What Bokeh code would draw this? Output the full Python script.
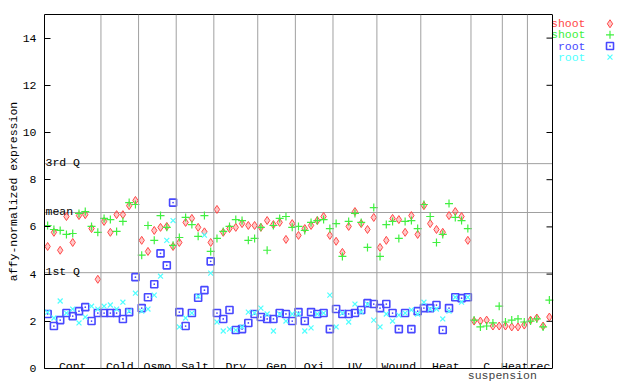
import numpy as np
from bokeh.plotting import figure
from bokeh.models import Range1d, LinearAxis, FixedTicker, Span, Title
from bokeh.embed import file_html
from bokeh.resources import INLINE
from bokeh.core.properties import value

# ---------------- data ----------------
groups = ["Cont", "Cold", "Osmo", "Salt", "Dry", "Gen", "Oxi", "UV", "Wound", "Heat", "C", "Heat", "rec"]
group_sizes = [9, 6, 6, 6, 7, 6, 6, 7, 7, 8, 5, 4, 4]
sub_label = "suspension"

shoot_a = [5.17, 5.77, 5.01, 6.44, 5.34, 6.48, 6.52, 5.93, 3.78,
           6.23, 5.77, 6.52, 6.52, 6.90, 7.12,
           5.43, 4.96, 5.85, 5.98, 6.02, 5.17,
           5.34, 6.19, 6.36, 5.98, 5.79, 5.34,
           6.74, 5.77, 5.93, 5.98, 6.14, 6.06, 6.06,
           5.98, 6.27, 6.10, 6.19, 5.47, 6.14,
           5.64, 5.93, 6.06, 6.27, 6.44, 5.64,
           5.39, 4.92, 6.02, 6.65, 6.14, 5.89, 6.40,
           5.13, 5.43, 6.36, 6.31, 5.77, 6.48, 5.68,
           6.90, 6.14, 5.89, 5.77, 6.48, 6.65, 6.44, 5.43,
           2.01, 2.01, 2.05, 1.80, 1.80,
           1.80, 1.76, 1.76, 1.84,
           2.05, 2.14, 1.80, 2.18]
shoot_b = [6.06, 5.89, 5.85, 5.68, 5.72, 6.57, 6.65, 6.02, 5.77,
           6.36, 6.31, 5.81, 6.23, 7.03, 6.95,
           4.80, 6.06, 5.43, 6.48, 5.98, 5.22,
           5.55, 6.40, 6.10, 5.60, 6.48, 4.96,
           5.51, 5.81, 6.02, 6.31, 6.27, 5.43, 5.51,
           5.98, 5.01, 6.06, 6.36, 6.44, 5.98,
           6.02, 5.85, 6.19, 6.27, 6.31, 5.93,
           6.14, 4.75, 6.23, 6.57, 6.19, 5.13, 6.82,
           4.75, 6.10, 6.23, 5.51, 6.23, 6.27, 5.93,
           6.95, 6.44, 5.34, 5.68, 6.99, 6.40, 6.27, 5.93,
           2.05, 1.76, 1.80, 1.93, 2.64,
           1.97, 2.05, 2.10, 1.97,
           2.01, 2.10, 1.76, 2.90]
nan = float("nan")
root_a = [2.31, 1.80, 2.05, 2.35, 2.22, 2.43, 2.60, 2.01, 2.35,
          2.35, 2.35, 2.35, 2.10, 2.39, 3.87,
          2.56, 3.02, 3.57, 4.88, 4.37, 7.03,
          2.39, 1.80, 2.35, 3.00, 3.32, 4.54,
          2.35, 2.10, 2.48, 1.63, 1.67, 1.93, 2.31,
          2.18, 2.10, 2.10, 2.35, 2.31, 2.01,
          2.39, 2.01, 2.39, 2.31, 2.35, 1.67,
          2.52, 2.31, 2.31, 2.35, 2.48, 2.77, 2.73,
          2.56, 2.73, 2.35, 1.67, 2.35, 1.67, 2.43,
          2.56, 2.56, 2.69, 1.63, 2.56, 3.02, 2.98, 3.02,
          nan, nan, nan, nan, nan,
          nan, nan, nan, nan,
          nan, nan, nan, nan]
root_b = [2.39, 2.14, 2.86, 2.35, 2.52, 1.93, 2.18, 2.64, 2.52,
          2.64, 2.69, 2.52, 2.81, 2.43, 3.19,
          2.43, 2.52, 3.11, 3.91, 5.43, 6.27,
          1.76, 2.14, 2.35, 3.06, 5.65, 4.04,
          1.97, 1.59, 1.67, 1.63, 1.76, 2.39, 2.35,
          2.56, 2.31, 1.59, 2.31, 2.01, 2.31,
          2.31, 1.59, 1.72, 2.31, 2.35, 3.11,
          1.76, 2.35, 1.97, 2.73, 2.39, 2.73, 2.05,
          1.76, 2.31, 2.01, 2.26, 2.35, 2.48, 2.31,
          2.81, 2.52, 2.52, 2.10, 2.43, 3.02, 2.81, 3.02,
          nan, nan, nan, nan, nan,
          nan, nan, nan, nan,
          nan, nan, nan, nan]

quartile_names = ["1st Q", "mean", "3rd Q"]
quartile_values = [4.06, 6.61, 8.68]
y_ticks = [0, 2, 4, 6, 8, 10, 12, 14]
legend_labels = ["shoot", "shoot", "root", "root"]
y_title = "affy-normalized expression"

# ---------------- style / layout ----------------
FONT = "Liberation Mono"
FS = "11.5px"
C_RED, C_GREEN, C_BLUE, C_CYAN = "#ff4848", "#40f040", "#4848ff", "#50ffff"
GRAY = "#a0a0a0"

W, H = 624, 376
BL, BT, BB = 36, 6, 15          # borders
FRAME_W = W - BL                # frame runs to the right edge (legend lives there)
FRAME_H = H - BT - BB
DATA_W = 508                    # pixel width of the data box
Y_MAX = 15

n = sum(group_sizes)
ppu_x = DATA_W / n
ppu_y = FRAME_H / Y_MAX
x_end = FRAME_W / ppu_x

xs = np.arange(n) + 0.5
bounds = np.cumsum(group_sizes)
starts = bounds - np.array(group_sizes)
centers = (starts + bounds) / 2.0

p = figure(width=W, height=H, x_range=Range1d(0, x_end), y_range=Range1d(0, Y_MAX),
           output_backend="svg", toolbar_location=None,
           min_border_left=BL, min_border_right=0, min_border_top=BT, min_border_bottom=BB)
p.grid.visible = False
p.outline_line_color = None
p.background_fill_color = "white"
p.border_fill_color = "white"

# y axis (left)
ya = p.yaxis[0]
ya.ticker = FixedTicker(ticks=y_ticks)
ya.major_tick_in = 6
ya.major_tick_out = 0
ya.minor_tick_in = 0
ya.minor_tick_out = 0
ya.major_label_standoff = 8
ya.major_label_text_font = FONT
ya.major_label_text_font_size = FS
ya.major_label_text_color = "black"

# y title as a side title, outside the axis
p.add_layout(Title(text=y_title, align="center", vertical_align="top", standoff=-4,
                   text_font=FONT, text_font_size=FS, text_font_style="normal",
                   text_color="black"), "left")

# bottom axis: border line over the data box + secondary label
xa = p.xaxis[0]
sub_pos = int(bounds[10])
xa.bounds = (0, n)
xa.ticker = FixedTicker(ticks=[sub_pos])
xa.major_label_overrides = {sub_pos: sub_label}
xa.major_tick_in = 0
xa.major_tick_out = 0
xa.minor_tick_in = 0
xa.minor_tick_out = 0
xa.major_label_standoff = 0
xa.major_label_text_font = FONT
xa.major_label_text_font_size = FS

# top border line over the data box
ta = LinearAxis(ticker=FixedTicker(ticks=[]), bounds=(0, n), major_tick_in=0, major_tick_out=0,
                minor_tick_in=0, minor_tick_out=0, major_label_standoff=0)
p.add_layout(ta, "above")

# group separators and quartile lines
for b in bounds[:-1]:
    p.add_layout(Span(location=float(b), dimension="height", line_color=GRAY, line_width=1))
p.segment(x0=[0] * len(quartile_values), x1=[n] * len(quartile_values),
          y0=quartile_values, y1=quartile_values, line_color=GRAY, line_width=1)
p.text(x=[1.0 / ppu_x] * len(quartile_values), y=[v + 1.0 / ppu_y for v in quartile_values],
       text=quartile_names, text_font=value(FONT), text_font_size=FS, text_align="left",
       text_baseline="alphabetic", text_color="black")

# right border with inward ticks
p.add_layout(Span(location=float(n), dimension="height", line_color="black", line_width=1))
rt = [t for t in y_ticks if t > 0]
p.segment(x0=[n - 6.0 / ppu_x] * len(rt), x1=[n] * len(rt), y0=rt, y1=rt,
          line_color="black", line_width=1)

# group labels
p.text(x=list(centers), y=[2.0 / ppu_y] * len(groups), text=groups,
       text_font=value(FONT), text_font_size=FS, text_align="center", text_baseline="alphabetic",
       text_color="black")

# data
p.scatter(xs, shoot_a, marker="diamond", size=8, line_color=C_RED, fill_color=C_RED,
          fill_alpha=0.3, line_width=1)
p.scatter(xs, shoot_b, marker="cross", size=8, line_color=C_GREEN, line_width=1.2)
p.scatter(xs, root_a, marker="square_dot", size=7, line_color=C_BLUE, fill_color=None,
          line_width=1.6)
p.scatter(xs, root_b, marker="x", size=7, line_color=C_CYAN, line_width=1.2)

# legend (text right-aligned, marker to the right)
lcol = [C_RED, C_GREEN, C_BLUE, C_CYAN]
row_px = [9.3, 20.4, 31.6, 42.7]            # px below the frame top
ly = [Y_MAX - r / ppu_y for r in row_px]
lx_text = 541.0 / ppu_x
lx_mark = 565.5 / ppu_x
p.text(x=[lx_text] * 4, y=ly, text=legend_labels, text_color=lcol, text_font=value(FONT),
       text_font_size=FS, text_align="right", text_baseline="middle")
p.scatter([lx_mark], [ly[0]], marker="diamond", size=8, line_color=C_RED, fill_color=C_RED,
          fill_alpha=0.3, line_width=1)
p.scatter([lx_mark], [ly[1]], marker="cross", size=8, line_color=C_GREEN, line_width=1.2)
p.scatter([lx_mark], [ly[2]], marker="square_dot", size=7, line_color=C_BLUE, fill_color=None,
          line_width=1.6)
p.scatter([lx_mark], [ly[3]], marker="x", size=7, line_color=C_CYAN, line_width=1.2)

html = file_html(p, INLINE)
html = html.replace("</head>",
                    "<style>body{margin:8px 8px 0 8px}html,body{overflow:hidden}</style></head>", 1)
open("out.html", "w").write(html)
